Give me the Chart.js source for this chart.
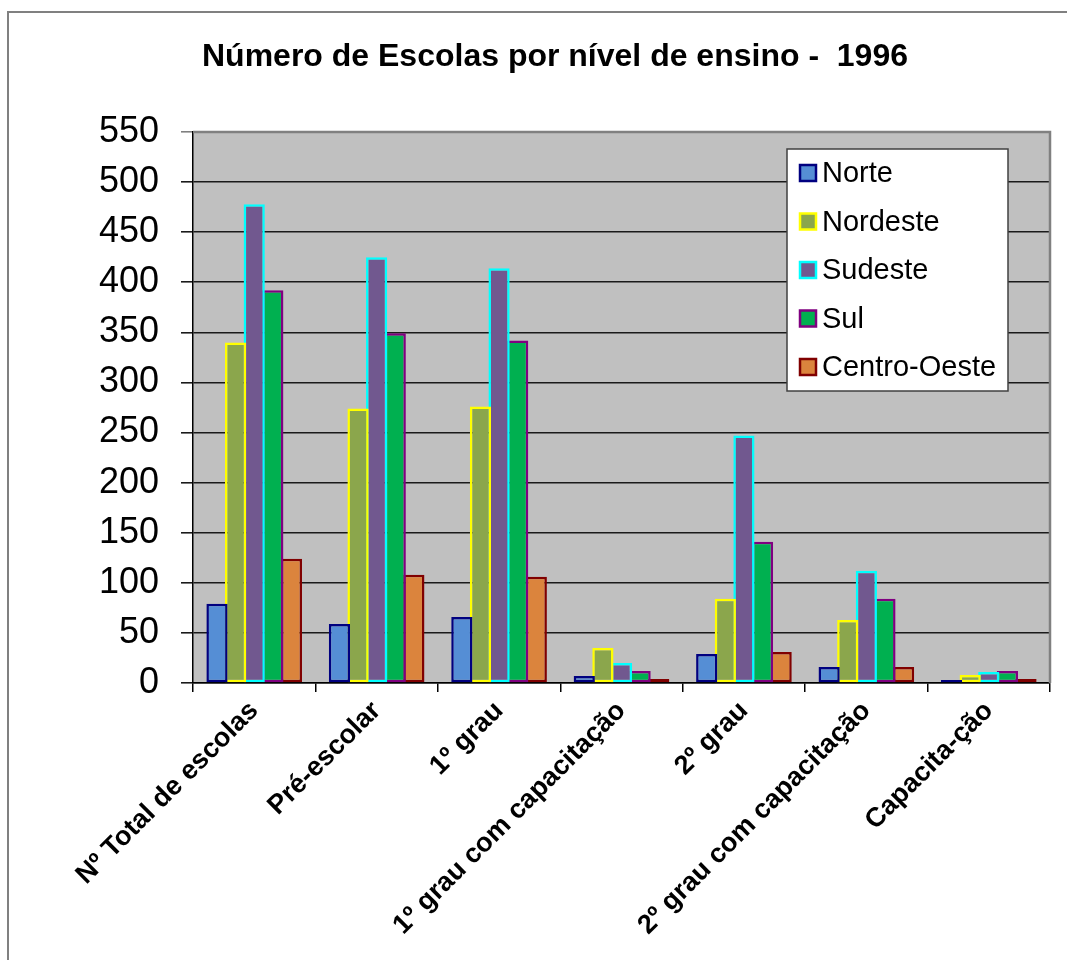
<!DOCTYPE html>
<html>
<head>
<meta charset="utf-8">
<script src="https://cdn.jsdelivr.net/npm/chart.js@4.4.1/dist/chart.umd.min.js"></script>
<style>
  html, body { margin: 0; padding: 0; background: #fff; }
  #wrap { width: 1067px; height: 960px; }
</style>
</head>
<body>
<div id="wrap"><canvas id="escolas"></canvas></div>
<script>
const categorias = [
    "Nº Total de escolas",
    "Pré-escolar",
    "1º grau",
    "1º grau com capacitação",
    "2º grau",
    "2º grau com capacitação",
    "Capacita-ção"
];
//values
const norte = [79, 59, 66, 7, 29, 16, 3];
const nordeste = [340, 274, 276, 35, 84, 63, 8];
const sudeste = [478, 425, 414, 20, 247, 112, 11];
const sul = [392, 349, 342, 12, 141, 84, 12];
const centroOeste = [124, 108, 106, 4, 31, 16, 4];
const yTicks = [0, 50, 100, 150, 200, 250, 300, 350, 400, 450, 500, 550];

const fonte = "'Liberation Sans', Arial, sans-serif";

//white page, grey frame and grey plot area
const fundo = {
    id: "fundo",
    beforeDraw(chart) {
        const ctx = chart.ctx;
        const a = chart.chartArea;
        ctx.save();
        ctx.fillStyle = "#fff";
        ctx.fillRect(0, 0, chart.width, chart.height);
        ctx.strokeStyle = "#808080";
        ctx.lineWidth = 2;
        ctx.beginPath();
        ctx.moveTo(8, chart.height);
        ctx.lineTo(8, 12);
        ctx.lineTo(chart.width, 12);
        ctx.stroke();
        ctx.fillStyle = "#C0C0C0";
        ctx.fillRect(a.left, a.top, a.right - a.left, a.bottom - a.top);
        ctx.restore();
    },
    beforeDatasetsDraw(chart) {
        const ctx = chart.ctx;
        const a = chart.chartArea;
        ctx.save();
        ctx.strokeStyle = "#808080";
        ctx.lineWidth = 2.5;
        ctx.beginPath();
        ctx.moveTo(a.left, a.top);
        ctx.lineTo(a.right, a.top);
        ctx.lineTo(a.right, a.bottom);
        ctx.stroke();
        ctx.restore();
    }
};

//legend box drawn inside the plot area
const legenda = {
    id: "legenda",
    afterDraw(chart) {
        const ctx = chart.ctx;
        const a = chart.chartArea;
        const x = a.right - 263, y = a.top + 17, w = 221, h = 242;
        ctx.save();
        ctx.fillStyle = "#fff";
        ctx.fillRect(x, y, w, h);
        ctx.strokeStyle = "#404040";
        ctx.lineWidth = 1.5;
        ctx.strokeRect(x, y, w, h);
        ctx.font = "29px " + fonte;
        ctx.textBaseline = "middle";
        ctx.textAlign = "left";
        chart.data.datasets.forEach((ds, i) => {
            const cy = y + 24 + i * 48.5;
            ctx.fillStyle = ds.backgroundColor;
            ctx.fillRect(x + 13, cy - 8, 16, 16);
            ctx.strokeStyle = ds.borderColor;
            ctx.lineWidth = 2.5;
            ctx.strokeRect(x + 13, cy - 8, 16, 16);
            ctx.fillStyle = "#000";
            ctx.fillText(ds.label, x + 35, cy + 1);
        });
        ctx.restore();
    }
};

const serie = (label, data, fill, border) => ({
    label: label,
    data: data,
    backgroundColor: fill,
    borderColor: border,
    borderWidth: 2.5,
    borderSkipped: false,
    categoryPercentage: 0.76,
    barPercentage: 1.14
});

new Chart(document.getElementById("escolas"), {
    type: "bar",
    plugins: [fundo, legenda],
    data: {
        labels: categorias,
        datasets: [
            serie("Norte", norte, "#558ED5", "#000080"),
            serie("Nordeste", nordeste, "#8BA64C", "#FFFF00"),
            serie("Sudeste", sudeste, "#71588F", "#00FFFF"),
            serie("Sul", sul, "#00B050", "#800080"),
            serie("Centro-Oeste", centroOeste, "#DB843D", "#800000")
        ]
    },
    options: {
        responsive: true,
        maintainAspectRatio: false,
        animation: false,
        //left padding pushes the centred title to the right
        layout: { padding: { left: 60, right: 17, top: 0, bottom: 0 } },
        plugins: {
            legend: { display: false },
            tooltip: { enabled: false },
            title: {
                display: true,
                text: "Número de Escolas por nível de ensino -  1996",
                color: "#000",
                font: { family: fonte, size: 32, weight: "bold", lineHeight: 1.2 },
                padding: { top: 38, bottom: 55.6 }
            }
        },
        scales: {
            x: {
                afterFit: (scale) => { scale.height = 277; },
                border: { display: true, color: "#000", width: 1.5 },
                grid: {
                    display: true,
                    offset: true,
                    drawOnChartArea: false,
                    drawTicks: true,
                    tickLength: 9,
                    color: "#000",
                    lineWidth: 1.5
                },
                ticks: {
                    autoSkip: false,
                    minRotation: 45,
                    maxRotation: 45,
                    padding: 3,
                    color: "#000",
                    font: { family: fonte, size: 27, weight: "bold" }
                }
            },
            y: {
                min: 0,
                max: 550,
                afterFit: (scale) => { scale.width = 133; },
                afterBuildTicks: (scale) => { scale.ticks = yTicks.map(v => ({ value: v })); },
                border: { display: true, color: "#000", width: 1.5 },
                grid: {
                    color: (c) => (c.tick && c.tick.value === 550 ? "#808080" : "#1a1a1a"),
                    lineWidth: 1.6,
                    tickLength: 12
                },
                ticks: {
                    padding: 22,
                    color: "#000",
                    font: { family: fonte, size: 36 }
                }
            }
        }
    }
});
</script>
</body>
</html>
